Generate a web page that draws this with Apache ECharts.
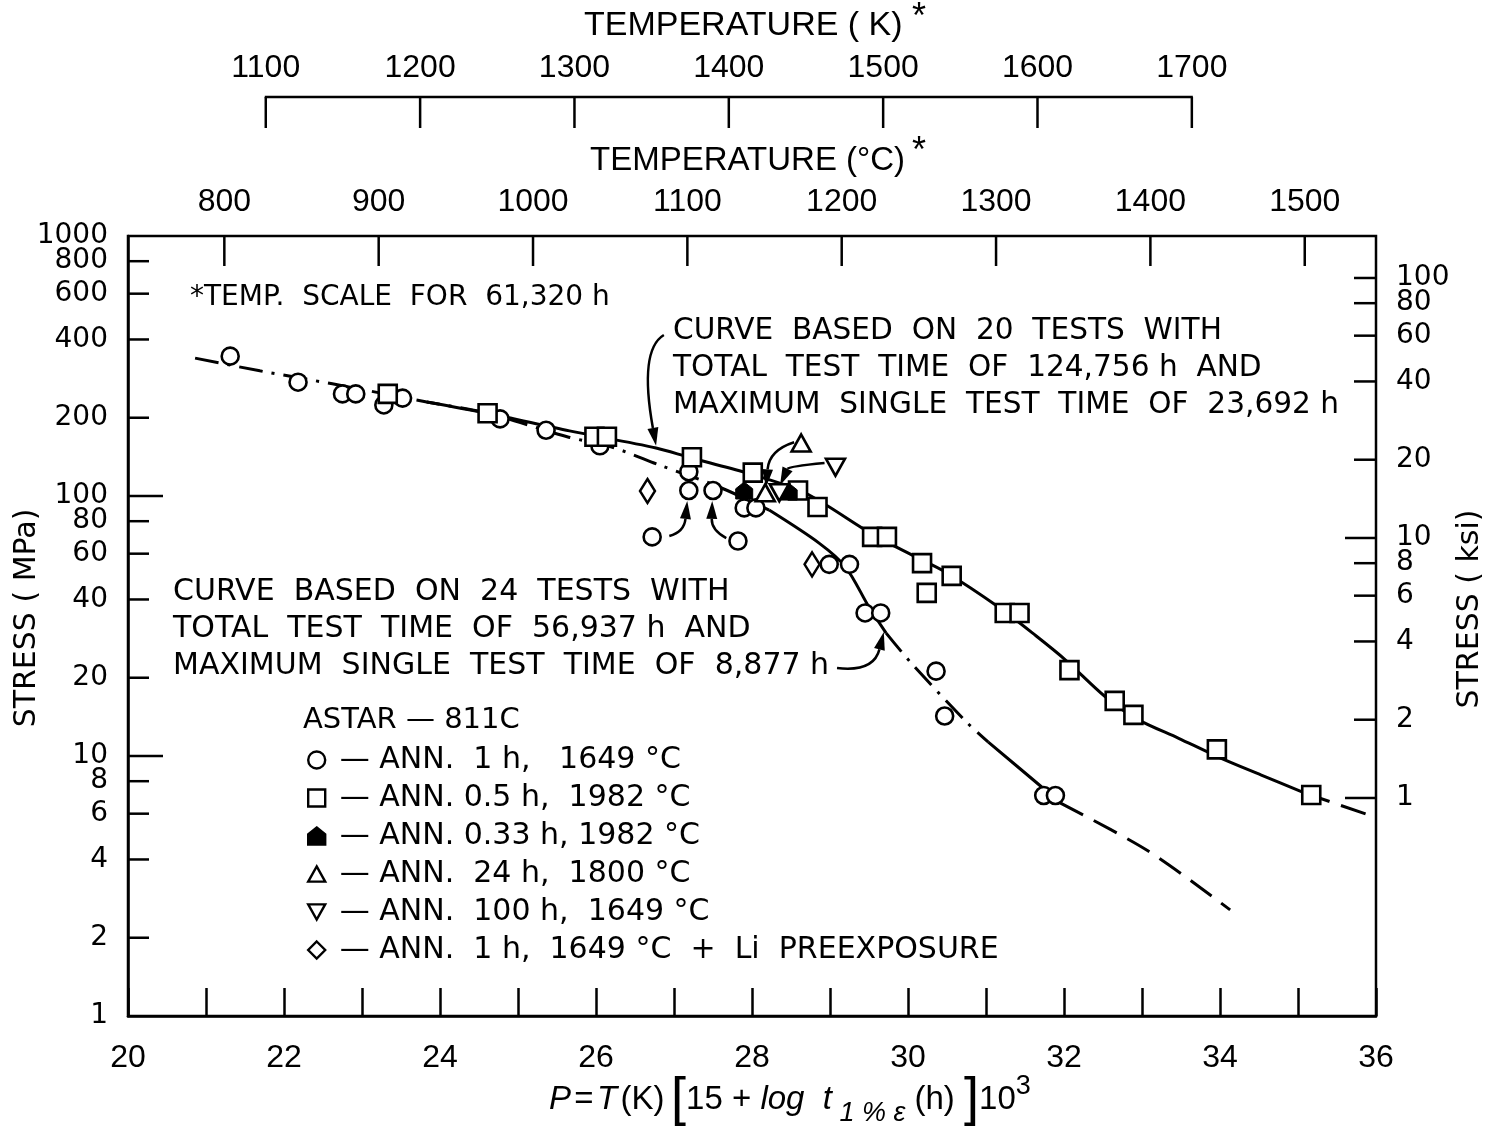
<!DOCTYPE html>
<html>
<head>
<meta charset="utf-8">
<title>ASTAR-811C creep strength</title>
<script src="https://cdn.jsdelivr.net/npm/echarts@6/dist/echarts.min.js"></script>
<style>
  html, body { margin: 0; padding: 0; background: #fff; }
  #chart { width: 1500px; height: 1130px; }
</style>
</head>
<body>
<div id="chart"></div>
<script>
// ---- Larson-Miller parameter data, P = T(K)[15 + log t] x 10^-3, stress in MPa ----
const circles = [
  [21.31, 345], [22.18, 274], [22.75, 247], [22.92, 247], [23.28, 224], [23.52, 238],
  [24.77, 198], [25.36, 179], [26.05, 156], [27.19, 124], [27.19, 105], [27.50, 105],
  [26.72, 69.6], [27.82, 67.1], [27.90, 90], [28.05, 90], [28.99, 54.6], [29.25, 54.6],
  [29.45, 35.5], [29.65, 35.5], [30.36, 21.2], [30.47, 14.25], [31.74, 7.05], [31.89, 7.05]
];
const squares = [
  [23.33, 247], [24.61, 208], [25.98, 169], [26.14, 169], [27.23, 141], [28.01, 123],
  [28.59, 105], [28.84, 90.7], [29.54, 69.6], [29.73, 69.6], [30.18, 55.2], [30.24, 42.4],
  [30.56, 49.3], [31.24, 35.5], [31.43, 35.5], [32.07, 21.4], [32.65, 16.3], [32.89, 14.4],
  [33.96, 10.6], [35.17, 7.08]
];
const filledPts = [[27.90, 105], [28.47, 104]];
const triangles = [[28.17, 103], [28.63, 160]];
const invTriangles = [[28.35, 103], [29.07, 129]];
const diamonds = [[26.66, 104.5], [28.77, 54.6]];

// fitted curve, 20 tests (solid) and its extrapolation (dashed)
const curve20 = [
  [23.83, 230], [24.61, 208], [25.66, 178], [26.77, 153], [27.19, 141], [27.92, 123],
  [28.60, 105.5], [28.95, 92.3], [29.55, 71], [30.10, 58.3], [30.48, 51], [31.16, 37.4],
  [31.64, 29.0], [32.02, 23.4], [32.53, 16.9], [32.95, 13.8], [33.47, 11.7], [33.98, 9.91],
  [34.53, 8.45], [35.09, 7.2]
];
const curve20Ext = [[35.09, 7.2], [36.0, 5.8]];

// fitted curve, 24 tests: pieces drawn dash-dot, solid and dashed
const curve24a = [
  [20.86, 339], [21.69, 303], [22.62, 270], [23.83, 230], [24.61, 208], [25.63, 169],
  [26.21, 154], [26.81, 131.6], [27.58, 108.3], [28.22, 88.3]
];
const curve24b = [[28.22, 88.3], [28.86, 65.9], [29.20, 53.3], [29.50, 37.4], [29.72, 29.7]];
const curve24c = [[29.72, 29.7], [30.04, 22.8], [30.75, 13.5], [31.03, 11.3]];
const curve24d = [[31.03, 11.3], [31.76, 7.4], [31.95, 6.6]];
const curve24e = [[31.95, 6.6], [33.08, 4.31], [34.13, 2.56]];

// pointer arrows: start, bend, tip (P, MPa)
const arrows = [
  [26.87, 416, 26.55, 364, 26.77, 156],
  [29.09, 21.8, 29.56, 21.0, 29.69, 30],
  [26.94, 70.2, 27.13, 72.7, 27.17, 95.7],
  [27.67, 68.9, 27.48, 74, 27.49, 95.7],
  [28.54, 161, 28.22, 150, 28.18, 108],
  [28.93, 134, 28.47, 130, 28.36, 110]
];

// axis tick values
const pTicksMin = 20, pTicksMax = 36;
const mpaTicks = [1000, 800, 600, 400, 200, 100, 80, 60, 40, 20, 10, 8, 6, 4, 2, 1];
const mpaMajor = [100, 10];
const ksiTicks = [100, 80, 60, 40, 20, 10, 8, 6, 4, 2, 1];
const ksiMajor = [10, 1];
const celsiusTicks = [800, 900, 1000, 1100, 1200, 1300, 1400, 1500];
const kelvinTicks = [1100, 1200, 1300, 1400, 1500, 1600, 1700];

const MPA_PER_KSI = 6.894757;
const SCALE_HOURS = 61320;
const kToP = k => k * (15 + Math.log10(SCALE_HOURS)) / 1000;
const cToP = c => kToP(c + 273.15);

const TEXT_FONT = 'DejaVu Sans';
const NUM_FONT = 'Liberation Sans';
const INK = '#000';

const chart = echarts.init(document.getElementById('chart'), null, { width: 1500, height: 1130 });

function axisText(text, x, y, align, size, family) {
  return { type: 'text', style: { text: String(text), x, y, align, verticalAlign: 'middle',
    fontSize: size, fontFamily: family, fill: INK } };
}
function tickLine(x1, y1, x2, y2) {
  return { type: 'line', shape: { x1, y1, x2, y2 }, style: { stroke: INK, lineWidth: 2.5 } };
}

function renderLeftAxis(params, api) {
  const v = api.value(1);
  const p = api.coord([pTicksMin, v]);
  const kids = [axisText(v, p[0] - 20, p[1], 'right', 28, TEXT_FONT)];
  if (v !== 1000 && v !== 1) {
    const len = mpaMajor.includes(v) ? 35 : 21;
    kids.push(tickLine(p[0], p[1], p[0] + len, p[1]));
  }
  return { type: 'group', children: kids };
}
function renderRightAxis(params, api) {
  const ksi = api.value(2);
  const p = api.coord([pTicksMax, api.value(1)]);
  const len = ksiMajor.includes(ksi) ? 31 : 22;
  return { type: 'group', children: [
    tickLine(p[0], p[1], p[0] - len, p[1]),
    axisText(ksi, p[0] + 20, p[1], 'left', 28, TEXT_FONT)
  ] };
}
function renderCelsiusAxis(params, api) {
  const p = api.coord([api.value(0), 1000]);
  return { type: 'group', children: [
    tickLine(p[0], p[1], p[0], p[1] + 30),
    axisText(api.value(2), p[0], p[1] - 34, 'center', 32, NUM_FONT)
  ] };
}
function renderKelvinAxis(params, api) {
  const p = api.coord([api.value(0), 1000]);
  const lineY = p[1] - 139;
  const kids = [
    tickLine(p[0], lineY, p[0], lineY + 31),
    axisText(api.value(2), p[0], lineY - 29, 'center', 32, NUM_FONT)
  ];
  if (params.dataIndex === 0) {
    const a = api.coord([kToP(kelvinTicks[0]), 1000]);
    const b = api.coord([kToP(kelvinTicks[kelvinTicks.length - 1]), 1000]);
    kids.push(tickLine(a[0] - 1, lineY, b[0] + 1, lineY));
  }
  return { type: 'group', children: kids };
}
function renderArrow(params, api) {
  const a = api.coord([api.value(0), api.value(1)]);
  const c = api.coord([api.value(2), api.value(3)]);
  const b = api.coord([api.value(4), api.value(5)]);
  const dx = b[0] - c[0], dy = b[1] - c[1];
  const d = Math.hypot(dx, dy) || 1;
  const ux = dx / d, uy = dy / d;
  const L = 18, W = 5.5;
  const bx = b[0] - ux * L, by = b[1] - uy * L;
  return { type: 'group', children: [
    { type: 'bezierCurve', shape: { x1: a[0], y1: a[1], cpx1: c[0], cpy1: c[1], x2: bx, y2: by },
      style: { stroke: INK, lineWidth: 2.5, fill: null } },
    { type: 'polygon', shape: { points: [[b[0], b[1]], [bx - uy * W, by + ux * W], [bx + uy * W, by - ux * W]] },
      style: { fill: INK } }
  ] };
}

const hollow = { color: '#fff', borderColor: INK, borderWidth: 2.6, opacity: 1 };
function markSeries(name, data, symbol, size, extra) {
  return Object.assign({ type: 'scatter', name, data, symbol, symbolSize: size,
    itemStyle: hollow, z: 5 }, extra || {});
}
function curveSeries(data, type, width) {
  return { type: 'line', data, smooth: 0.3, showSymbol: false, symbol: 'none', z: 3,
    lineStyle: { color: INK, width: width || 3, type } };
}
const DASH_DOT = [24, 9, 3, 9];
const DASH = [26, 12];

const names = ['ANN.  1 h,   1649 °C', 'ANN. 0.5 h,  1982 °C', 'ANN. 0.33 h, 1982 °C',
  'ANN.  24 h,  1800 °C', 'ANN.  100 h,  1649 °C', 'ANN.  1 h,  1649 °C  +  Li  PREEXPOSURE'];

const option = {
  animation: false,
  backgroundColor: '#fff',
  grid: { left: 128, right: 124, top: 236, bottom: 114, show: true, borderColor: INK, borderWidth: 2.5 },
  xAxis: {
    type: 'value', min: pTicksMin, max: pTicksMax, interval: 1,
    axisLine: { show: true, lineStyle: { color: INK, width: 2.5 } },
    axisTick: { show: true, inside: true, length: 28, lineStyle: { color: INK, width: 2.5 } },
    axisLabel: { margin: 26, fontSize: 32, fontFamily: NUM_FONT, color: INK,
      formatter: v => (v % 2 === 0 ? String(v) : '') },
    splitLine: { show: false }
  },
  yAxis: {
    type: 'log', logBase: 10, min: 1, max: 1000,
    axisLine: { show: true, lineStyle: { color: INK, width: 2.5 } },
    axisTick: { show: false }, axisLabel: { show: false }, splitLine: { show: false }
  },
  legend: {
    left: 302, top: 740, orient: 'vertical', itemWidth: 17, itemHeight: 17, itemGap: 8,
    selectedMode: false,
    itemStyle: { borderColor: INK, borderWidth: 2.4, opacity: 1 },
    textStyle: { fontFamily: TEXT_FONT, fontSize: 30, color: INK },
    formatter: n => ' \u2014 ' + n,
    data: names
  },
  graphic: [
    { type: 'text', left: 584, top: 9, style: { text: 'TEMPERATURE ( K)', fontSize: 34, fontFamily: NUM_FONT, fill: INK } },
    { type: 'text', left: 912, top: 0, style: { text: '*', fontSize: 36, fontFamily: NUM_FONT, fill: INK } },
    { type: 'text', left: 590, top: 144, style: { text: 'TEMPERATURE (°C)', fontSize: 33, fontFamily: NUM_FONT, fill: INK } },
    { type: 'text', left: 912, top: 134, style: { text: '*', fontSize: 36, fontFamily: NUM_FONT, fill: INK } },
    { type: 'text', x: 27, y: 618, rotation: Math.PI / 2,
      style: { text: 'STRESS ( MPa)', align: 'center', verticalAlign: 'middle', fontSize: 30, fontFamily: TEXT_FONT, fill: INK } },
    { type: 'text', x: 1470, y: 609, rotation: Math.PI / 2,
      style: { text: 'STRESS ( ksi)', align: 'center', verticalAlign: 'middle', fontSize: 30, fontFamily: TEXT_FONT, fill: INK } },
    { type: 'text', x: 190, y: 298,
      style: { text: '*TEMP.  SCALE  FOR  61,320 h', verticalAlign: 'middle', fontSize: 28, fontFamily: TEXT_FONT, fill: INK } },
    { type: 'text', x: 673, y: 368,
      style: { text: 'CURVE  BASED  ON  20  TESTS  WITH\nTOTAL  TEST  TIME  OF  124,756 h  AND\nMAXIMUM  SINGLE  TEST  TIME  OF  23,692 h',
        verticalAlign: 'middle', fontSize: 29.6, lineHeight: 37, fontFamily: TEXT_FONT, fill: INK } },
    { type: 'text', x: 173, y: 629,
      style: { text: 'CURVE  BASED  ON  24  TESTS  WITH\nTOTAL  TEST  TIME  OF  56,937 h  AND\nMAXIMUM  SINGLE  TEST  TIME  OF  8,877 h',
        verticalAlign: 'middle', fontSize: 30, lineHeight: 37, fontFamily: TEXT_FONT, fill: INK } },
    { type: 'text', x: 303, y: 720,
      style: { text: 'ASTAR \u2014 811C', verticalAlign: 'middle', fontSize: 29, fontFamily: TEXT_FONT, fill: INK } },
    { type: 'text', x: 549, y: 1100,
      style: {
        text: '{i|P} {n|=} {i|T} {n|(K)}  {b|[}{n|15 + }{i|log  t}{s| 1 % \u03b5}{n| (h) }{b|]}{n|10}{u|3}',
        verticalAlign: 'middle',
        rich: {
          i: { fontStyle: 'italic', fontSize: 33, fontFamily: NUM_FONT, lineHeight: 54, verticalAlign: 'middle' },
          n: { fontSize: 33, fontFamily: NUM_FONT, lineHeight: 54, verticalAlign: 'middle' },
          b: { fontSize: 54, fontFamily: NUM_FONT, lineHeight: 54, verticalAlign: 'middle' },
          s: { fontStyle: 'italic', fontSize: 27, fontFamily: NUM_FONT, lineHeight: 54, verticalAlign: 'bottom' },
          u: { fontSize: 27, fontFamily: NUM_FONT, lineHeight: 54, verticalAlign: 'top' }
        }
      } }
  ],
  series: [
    curveSeries(curve20, 'solid'),
    curveSeries(curve20Ext, DASH),
    curveSeries(curve24a, DASH_DOT),
    curveSeries(curve24b, 'solid'),
    curveSeries(curve24c, DASH_DOT),
    curveSeries(curve24d, 'solid'),
    curveSeries(curve24e, DASH),
    { type: 'custom', coordinateSystem: 'cartesian2d', renderItem: renderArrow, data: arrows,
      encode: { x: 0, y: 1 }, z: 4, silent: true },
    markSeries(names[0], circles, 'circle', 17),
    markSeries(names[1], squares, 'rect', 18),
    markSeries(names[2], filledPts, 'path://M5,0 L10,4 L10,10 L0,10 L0,4 Z', 17,
      { itemStyle: { color: INK, borderColor: INK, borderWidth: 1, opacity: 1 } }),
    markSeries(names[3], triangles, 'path://M5,0 L10,9 L0,9 Z', [19, 17]),
    markSeries(names[4], invTriangles, 'path://M0,0 L10,0 L5,9 Z', [19, 17]),
    markSeries(names[5], diamonds, 'diamond', [15, 24]),
    { type: 'custom', coordinateSystem: 'cartesian2d', renderItem: renderLeftAxis, silent: true,
      data: mpaTicks.map(v => [pTicksMin, v]), encode: { x: 0, y: 1 }, z: 6 },
    { type: 'custom', coordinateSystem: 'cartesian2d', renderItem: renderRightAxis, silent: true,
      data: ksiTicks.map(k => [pTicksMax, k * MPA_PER_KSI, k]), encode: { x: 0, y: 1 }, z: 6 },
    { type: 'custom', coordinateSystem: 'cartesian2d', renderItem: renderCelsiusAxis, silent: true,
      data: celsiusTicks.map(c => [cToP(c), 1000, c]), encode: { x: 0, y: 1 }, z: 6 },
    { type: 'custom', coordinateSystem: 'cartesian2d', renderItem: renderKelvinAxis, silent: true,
      data: kelvinTicks.map(k => [kToP(k), 1000, k]), encode: { x: 0, y: 1 }, z: 6 }
  ]
};
chart.setOption(option);
</script>
</body>
</html>
